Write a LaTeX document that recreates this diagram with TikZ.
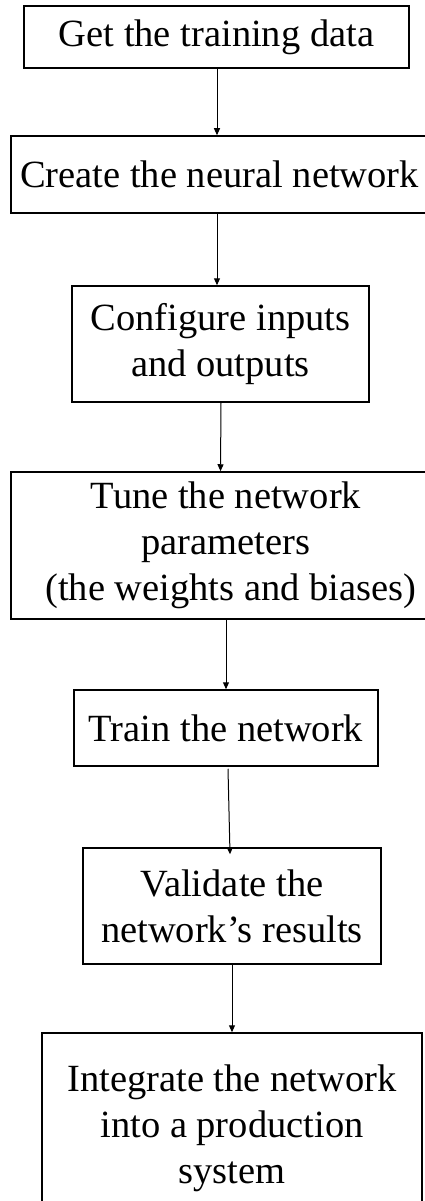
\documentclass[tikz,border=0pt]{standalone}
\usepackage{fontspec}
\setmainfont{Liberation Serif}
\usetikzlibrary{arrows.meta}

\begin{document}
\begin{tikzpicture}[x=1pt, y=-1pt,
  stepbox/.style={draw, line width=1.5pt, align=center, inner sep=0pt,
    font=\fontsize{38.5}{46}\selectfont},
  flow/.style={line width=1pt, -{Triangle[length=7pt, width=6pt]}}]

  \useasboundingbox (0,0) rectangle (425,1201);
  \clip (0,0) rectangle (425,1201);

  \node[stepbox, minimum width=385pt, minimum height=62pt] (data) at (216.5,37)
    {Get the training data};
  \node[stepbox, minimum width=417pt, minimum height=77pt] (create) at (219.5,174.5)
    {Create the neural network};
  \node[stepbox, minimum width=297pt, minimum height=116pt] (config) at (220.5,344)
    {Configure inputs\\and outputs};
  \node[stepbox, minimum width=430pt, minimum height=147pt] (tune) at (226,545.5)
    {Tune the network\\parameters\\\hspace*{0.25em}(the weights and biases)};
  \node[stepbox, minimum width=304pt, minimum height=76pt] (train) at (226,728)
    {Train the network};
  \node[stepbox, minimum width=298pt, minimum height=116pt] (valid) at (232,906)
    {Validate the\\network’s results};
  \node[stepbox, minimum width=380pt, minimum height=190pt] (integ) at (232,1128)
    {Integrate the network\\into a production\\system};

  % arrows between the steps
  \draw[flow] ([xshift=0.5pt]data.south) -- ([xshift=-2.5pt]create.north);
  \draw[flow] ([xshift=-2.5pt]create.south) -- ([xshift=-3.5pt]config.north);
  \draw[flow] ([xshift=0.5pt]config.south) -- ([xshift=-5.5pt]tune.north);
  \draw[flow] (tune.south) -- (train.north);
  \draw[flow] ([xshift=2pt,yshift=-2pt]train.south) -- ([xshift=-2pt,yshift=-7pt]valid.north);
  \draw[flow] (valid.south) -- (integ.north);

\end{tikzpicture}
\end{document}
